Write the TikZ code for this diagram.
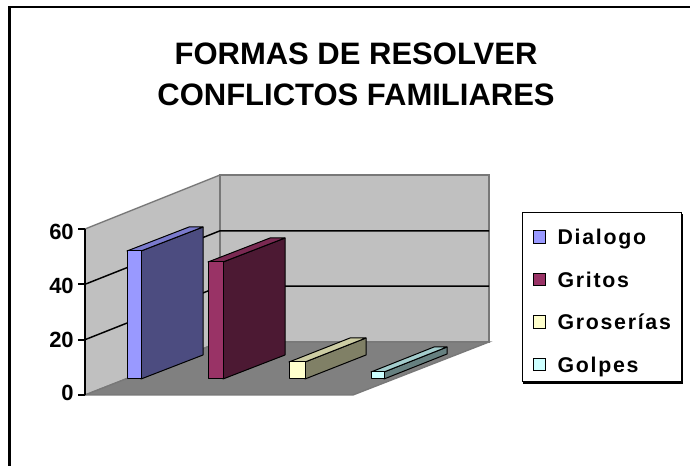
\documentclass[tikz,border=0pt]{standalone}
\usepackage{fontspec}
\setmainfont{Liberation Sans}
\usetikzlibrary{positioning}
\definecolor{wallcolor}{RGB}{192,192,192}
\definecolor{floorcolor}{RGB}{128,128,128}
\definecolor{edgecolor}{RGB}{120,120,120}
\definecolor{dialogocolor}{RGB}{153,153,255}
\definecolor{gritoscolor}{RGB}{153,51,102}
\definecolor{groseriascolor}{RGB}{255,255,204}
\definecolor{golpescolor}{RGB}{204,255,255}

\begin{document}
\begin{tikzpicture}[
    x=0.75pt, y=-0.75pt,
    wall/.style={fill=wallcolor, draw=edgecolor, line width=1pt},
    floorface/.style={fill=floorcolor, draw=edgecolor, line width=1pt},
    gridline/.style={draw=black, line width=1.1pt},
    barfront/.style={draw=black, line width=0.75pt, line join=round},
    barside/.style={draw=black, line width=0.75pt, line join=round},
    axislabel/.style={font=\bfseries\fontsize{16.5}{16.5}\selectfont, inner sep=0pt, text height=11.8pt, text depth=0pt, anchor=east},
    legmark/.style={draw=black, line width=0.75pt, minimum size=9.5pt, inner sep=0pt},
    legtext/.style={font=\bfseries\fontsize{16}{16}\selectfont\addfontfeature{LetterSpace=8}, inner sep=0pt, text height=11.5pt, text depth=0pt}
]
    \useasboundingbox (0,0) rectangle (690,466);
    \fill[white] (0,0) rectangle (690,466);

    % Chart border
    \draw[line width=2pt] (9.5,470) -- (9.5,7) -- (695,7);

    % Title
    \node[font=\bfseries\fontsize{23.25}{31}\selectfont, anchor=base, inner sep=0pt] (title1) at (356,65) {FORMAS DE RESOLVER};
    \node[font=\bfseries\fontsize{23.25}{31}\selectfont, anchor=base, inner sep=0pt] (title2) at (356,106) {CONFLICTOS FAMILIARES};

    % Walls and floor
    \filldraw[wall] (85,229) -- (220,175) -- (220,342) -- (85,395) -- cycle;
    \filldraw[wall] (220,175) rectangle (489,342);
    \filldraw[floorface] (85,395) -- (353,395) -- (489,342) -- (220,342) -- cycle;

    % Gridlines
    \draw[gridline] (85,284.3) -- (220,230.8) -- (489,230.8);
    \draw[gridline] (85,339.7) -- (220,286.2) -- (489,286.2);

    % Value axis
    \draw[line width=1.3pt] (85,229) -- (85,395);
    \draw[line width=1.3pt] (78,229) -- (85,229);
    \draw[line width=1.3pt] (78,284.3) -- (85,284.3);
    \draw[line width=1.3pt] (78,339.7) -- (85,339.7);
    \draw[line width=1.3pt] (78,395) -- (85,395);
    \node[axislabel] (l60) at (74,232) {60};
    \node[axislabel] (l40) at (74,286) {40};
    \node[axislabel] (l20) at (74,340) {20};
    \node[axislabel] (l0) at (74,393) {0};

    % Bars
    \filldraw[barside, fill=dialogocolor!50!black] (141,379) -- ++(62,-24) -- (203,227) -- (141,251) -- cycle;
    \filldraw[barside, fill=dialogocolor!80!black] (127,251) -- (141,251) -- ++(62,-24) -- ++(-14,0) -- cycle;
    \filldraw[barfront, fill=dialogocolor] (127,379) rectangle (141,251);

    \filldraw[barside, fill=gritoscolor!50!black] (223,379) -- ++(62,-24) -- (285,238) -- (223,262) -- cycle;
    \filldraw[barside, fill=gritoscolor!80!black] (208,262) -- (223,262) -- ++(62,-24) -- ++(-15,0) -- cycle;
    \filldraw[barfront, fill=gritoscolor] (208,379) rectangle (223,262);

    \filldraw[barside, fill=groseriascolor!50!black] (305,379) -- ++(61,-24) -- (366,338) -- (305,362) -- cycle;
    \filldraw[barside, fill=groseriascolor!80!black] (289,362) -- (305,362) -- ++(61,-24) -- ++(-16,0) -- cycle;
    \filldraw[barfront, fill=groseriascolor] (289,379) rectangle (305,362);

    \filldraw[barside, fill=golpescolor!50!black] (384,379) -- ++(63,-25) -- (447,347) -- (384,372) -- cycle;
    \filldraw[barside, fill=golpescolor!80!black] (371,372) -- (384,372) -- ++(63,-25) -- ++(-13,0) -- cycle;
    \filldraw[barfront, fill=golpescolor] (371,379) rectangle (384,372);

    % Legend
    \draw[fill=black] (523,214) rectangle (682,383);
    \filldraw[fill=white, draw=black, line width=0.75pt] (522,213) rectangle (681,382);
    \node[legmark, fill=dialogocolor] (mdialogo) at (539.5,237) {};
    \node[legmark, fill=gritoscolor] (mgritos) at (539.5,279.5) {};
    \node[legmark, fill=groseriascolor] (mgroserias) at (539.5,322) {};
    \node[legmark, fill=golpescolor] (mgolpes) at (539.5,364.5) {};
    \node[legtext, right=8.25pt of mdialogo] (tdialogo) {Dialogo};
    \node[legtext, right=8.25pt of mgritos] (tgritos) {Gritos};
    \node[legtext, right=8.25pt of mgroserias] (tgroserias) {Groserías};
    \node[legtext, right=8.25pt of mgolpes] (tgolpes) {Golpes};
\end{tikzpicture}
\end{document}
